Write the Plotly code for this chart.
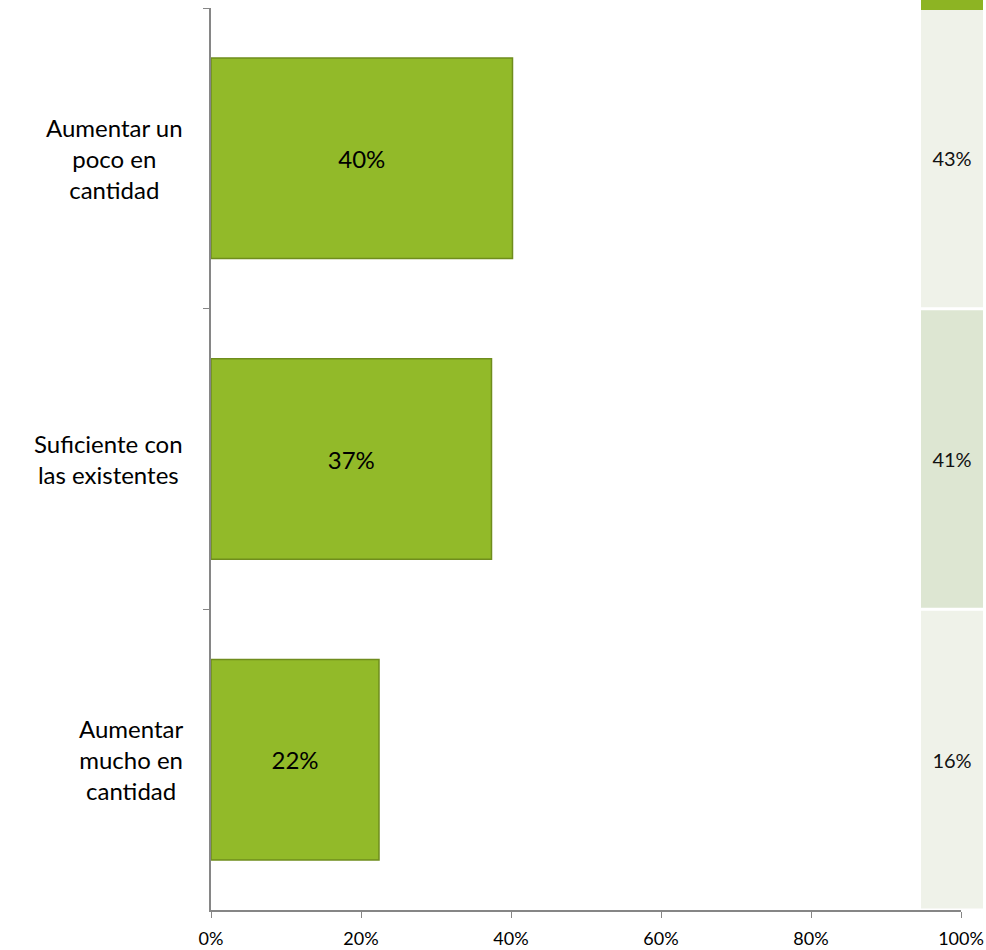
import plotly.graph_objects as go

categories = ["Aumentar un<br>poco en<br>cantidad", "Suficiente con<br>las existentes", "Aumentar<br>mucho en<br>cantidad"]
values = [40.2, 37.4, 22.4]
bar_labels = ["40%", "37%", "22%"]
table_values = [43, 41, 16]
table_colors = ["#EFF2E9", "#DDE6D2", "#EFF2E9"]
x_ticks = [0, 20, 40, 60, 80, 100]
x_tick_text = ["0%", "20%", "40%", "60%", "80%", "100%"]

FONT = "Lato"
W, H = 986, 950
ML, MR, MT, MB = 211, 3, 8, 40
plot_w = W - ML - MR
plot_h = H - MT - MB
main_frac = (961 - ML) / plot_w
tab0 = (921 - ML) / plot_w

fig = go.Figure()
fig.add_trace(go.Bar(
    y=categories, x=values, orientation="h", width=0.667,
    marker=dict(color="#92BA29", line=dict(color="#6F8D1D", width=1.5)),
    text=bar_labels, textposition="inside", insidetextanchor="middle",
    textfont=dict(family=FONT, size=24, color="#000000"),
    xaxis="x", yaxis="y", hoverinfo="skip",
))
fig.add_trace(go.Bar(
    y=categories, x=[1] * len(categories), orientation="h", width=0.99,
    marker=dict(color=table_colors, line=dict(width=0)),
    text=[f"{v}%" for v in table_values], textposition="inside", insidetextanchor="middle",
    textfont=dict(family=FONT, size=20, color="#111111"),
    xaxis="x2", yaxis="y", hoverinfo="skip",
))

annotations = [
    dict(xref="paper", yref="y", x=(185 - ML) / plot_w, y=cat, text=cat,
         showarrow=False, xanchor="right", yanchor="middle", align="center",
         font=dict(family=FONT, size=24, color="#000000"))
    for cat in categories
]

fig.update_layout(
    width=W, height=H,
    margin=dict(l=ML, r=MR, t=MT, b=MB, autoexpand=False),
    paper_bgcolor="white", plot_bgcolor="white",
    showlegend=False,
    xaxis=dict(domain=[0, main_frac], range=[0, 100], tickvals=x_ticks, ticktext=x_tick_text,
               showgrid=False, zeroline=False, showline=True, linecolor="#868686", linewidth=1.5,
               ticks="outside", ticklen=6, tickcolor="#868686", automargin=False,
               ticklabelstandoff=6,
               tickfont=dict(family=FONT, size=18, color="#000000"), anchor="y"),
    xaxis2=dict(domain=[tab0, 1.0], range=[0, 1], showgrid=False, zeroline=False,
                showticklabels=False, showline=False, anchor="y", automargin=False),
    yaxis=dict(categoryorder="array", categoryarray=categories, autorange="reversed",
               showticklabels=False, showgrid=False, zeroline=False, showline=True,
               linecolor="#868686", linewidth=1.5, ticks="outside", ticklen=6, tickcolor="#868686",
               tickson="boundaries", automargin=False),
    annotations=annotations,
    shapes=[dict(type="rect", xref="x2 domain", yref="paper", x0=0, x1=1,
                 y0=1 - 2 / plot_h, y1=1 + MT / plot_h,
                 fillcolor="#8DB423", line=dict(width=0), layer="above")],
)

fig.write_html("out.html", config={"displayModeBar": False},
               post_script="document.body.style.margin='0';document.body.style.overflow='hidden';")
